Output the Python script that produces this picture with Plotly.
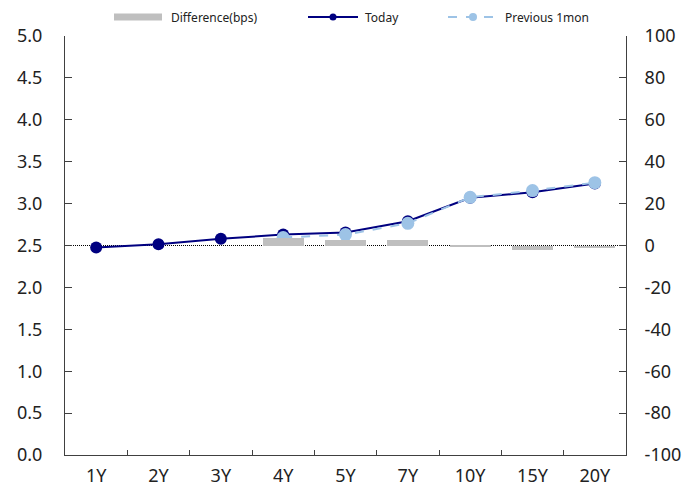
import plotly.graph_objects as go

# Yield curve tenors and rates (%)
tenors = ["1Y", "2Y", "3Y", "4Y", "5Y", "7Y", "10Y", "15Y", "20Y"]
today = [2.476, 2.516, 2.58, 2.63, 2.655, 2.79, 3.07, 3.135, 3.24]
previous_1mon = [None, None, None, 2.595, 2.63, 2.765, 3.075, 3.155, 3.25]
# Change versus one month ago (bps)
difference_bps = [0.0, 0.0, 0.0, 3.5, 2.5, 2.5, -0.3, -2.0, -1.0]

y_ticks = [0.0, 0.5, 1.0, 1.5, 2.0, 2.5, 3.0, 3.5, 4.0, 4.5, 5.0]
y2_ticks = [-100, -80, -60, -40, -20, 0, 20, 40, 60, 80, 100]

W, H = 700, 490
ML, MR, MT, MB = 65, 74, 36, 35
PW, PH = W - ML - MR, H - MT - MB

NAVY = "#000080"
LIGHT = "#9DC3E6"
GRAY = "#BFBFBF"
AXIS = "#404040"
FONT = "Noto Sans"


def px(x):
    return (x - ML) / PW


def py(y):
    return (H - MB - y) / PH


fig = go.Figure()

fig.add_trace(go.Bar(
    x=tenors, y=difference_bps, yaxis="y2", name="Difference(bps)",
    marker=dict(color=GRAY, line=dict(width=0)), width=0.66,
    showlegend=False,
))
fig.add_trace(go.Scatter(
    x=tenors, y=today, name="Today", mode="lines+markers",
    line=dict(color=NAVY, width=2),
    marker=dict(color=NAVY, size=12),
    showlegend=False,
))
fig.add_trace(go.Scatter(
    x=tenors, y=previous_1mon, name="Previous 1mon", mode="lines+markers",
    line=dict(color=LIGHT, width=2, dash="dash"),
    marker=dict(color=LIGHT, size=13),
    showlegend=False,
))

shapes = [
    # dotted reference line at 2.5% / 0 bps
    dict(type="line", xref="paper", yref="y", x0=0, x1=1, y0=2.5, y1=2.5,
         line=dict(color="black", width=1, dash="1px,1px"), layer="below"),
]

# Legend row along the top
ly = py(17)
shapes.append(dict(type="line", xref="paper", yref="paper",
                   x0=px(114), x1=px(162), y0=ly, y1=ly,
                   line=dict(color=GRAY, width=7)))
shapes.append(dict(type="line", xref="paper", yref="paper",
                   x0=px(308), x1=px(358), y0=ly, y1=ly,
                   line=dict(color=NAVY, width=2)))
shapes.append(dict(type="circle", xref="paper", yref="paper",
                   xsizemode="pixel", ysizemode="pixel",
                   xanchor=px(333), yanchor=ly, x0=-3.5, x1=3.5, y0=-3.5, y1=3.5,
                   fillcolor=NAVY, line=dict(color=NAVY, width=0)))
shapes.append(dict(type="line", xref="paper", yref="paper",
                   x0=px(448), x1=px(498), y0=ly, y1=ly,
                   line=dict(color=LIGHT, width=2, dash="dash")))
shapes.append(dict(type="circle", xref="paper", yref="paper",
                   xsizemode="pixel", ysizemode="pixel",
                   xanchor=px(473), yanchor=ly, x0=-4, x1=4, y0=-4, y1=4,
                   fillcolor=LIGHT, line=dict(color=LIGHT, width=0)))

legend_text = [(169, "Difference(bps)"), (363, "Today"), (503, "Previous 1mon")]
annotations = [
    dict(text=t, x=px(x0), y=ly, xref="paper", yref="paper", showarrow=False,
         xanchor="left", yanchor="middle", font=dict(family=FONT, size=12, color="#222222"))
    for x0, t in legend_text
]

fig.update_layout(
    width=W, height=H,
    margin=dict(l=ML, r=MR, t=MT, b=MB, pad=0, autoexpand=False),
    paper_bgcolor="white", plot_bgcolor="white",
    font=dict(family=FONT, size=18, color="#222222"),
    bargap=0,
    shapes=shapes,
    annotations=annotations,
    xaxis=dict(
        type="category", range=[-0.5, 8.5], automargin=False,
        showline=True, linecolor=AXIS, linewidth=1,
        ticks="inside", ticklen=5, tickcolor=AXIS, tickson="boundaries",
        showgrid=False, zeroline=False, ticklabelstandoff=4,
        tickfont=dict(family=FONT, size=18),
    ),
    yaxis=dict(
        range=[0, 5], tickvals=y_ticks, ticktext=[f"{v:.1f}" for v in y_ticks],
        automargin=False,
        showline=True, linecolor=AXIS, linewidth=1,
        ticks="inside", ticklen=7, tickcolor=AXIS,
        showgrid=False, zeroline=False, ticklabelstandoff=18,
        tickfont=dict(family=FONT, size=18),
    ),
    yaxis2=dict(
        range=[-100, 100], tickvals=y2_ticks, ticktext=[str(v) for v in y2_ticks],
        overlaying="y", side="right", automargin=False,
        showline=True, linecolor=AXIS, linewidth=1,
        ticks="inside", ticklen=7, tickcolor=AXIS,
        showgrid=False, zeroline=False, ticklabelstandoff=14,
        tickfont=dict(family=FONT, size=18),
    ),
)

fig.write_html("out.html")
